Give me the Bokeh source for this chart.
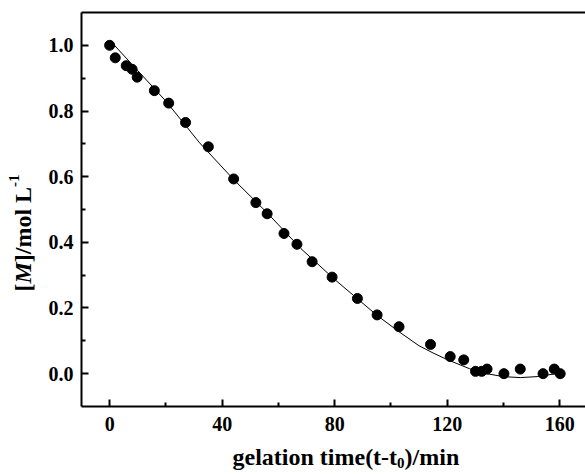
from math import pi
from bokeh.plotting import figure
from bokeh.models import Range1d, LinearAxis, FixedTicker, Label, NumeralTickFormatter
from bokeh.embed import file_html
from bokeh.resources import INLINE

# measured data points
time_min = [0, 2.0, 5.9, 8.0, 9.8, 15.9, 21.0, 27.0, 35.1, 44.1, 52.0, 56.0, 62.0,
            66.6, 72.0, 79.1, 88.1, 95.1, 102.9, 114.1, 121.1, 125.9, 130.1, 132.3,
            134.2, 140.2, 146.0, 154.1, 158.1, 160.2]
conc = [1.0, 0.962, 0.938, 0.927, 0.903, 0.862, 0.824, 0.765, 0.691, 0.593, 0.521,
        0.487, 0.427, 0.394, 0.341, 0.294, 0.229, 0.179, 0.143, 0.089, 0.052, 0.042,
        0.007, 0.007, 0.014, 0.0, 0.014, 0.0, 0.014, 0.0]

# fitted curve
fit_time = [0.85, 10, 20, 32, 44, 56, 68, 80, 88, 95, 103, 110, 115, 120, 128, 134,
            140, 146, 152, 158, 160]
fit_conc = [1.008, 0.923, 0.830, 0.703, 0.592, 0.490, 0.381, 0.287, 0.229, 0.178,
            0.127, 0.085, 0.063, 0.043, 0.015, 0.0, -0.009, -0.012, -0.009, -0.001, 0.003]

x_ticks = [0, 40, 80, 120, 160]
x_minor = [20, 60, 100, 140]
y_ticks = [0.0, 0.2, 0.4, 0.6, 0.8, 1.0]
y_minor = [0.1, 0.3, 0.5, 0.7, 0.9]
x_lo, x_hi = -10, 169.2
y_lo, y_hi = -0.1, 1.1

FONT = "Liberation Serif"

# frame covers the whole canvas; axes are placed at fixed data locations
p = figure(width=585, height=474, output_backend="svg", toolbar_location=None,
           x_range=Range1d(-38.8, 169.2), y_range=Range1d(-0.30711, 1.13655),
           x_axis_type=None, y_axis_type=None,
           min_border_left=0, min_border_right=0, min_border_top=0, min_border_bottom=0)
p.outline_line_color = None
p.grid.visible = False
p.background_fill_color = "white"
p.border_fill_color = "white"


def style(ax):
    ax.axis_line_width = 2
    ax.axis_line_color = "black"
    ax.major_tick_line_width = 2
    ax.minor_tick_line_width = 2
    ax.major_tick_in = 7
    ax.major_tick_out = 0
    ax.minor_tick_in = 4
    ax.minor_tick_out = 0
    ax.major_label_text_font = FONT
    ax.major_label_text_font_style = "bold"
    ax.major_label_text_font_size = "20px"
    ax.major_label_text_color = "black"


xa = LinearAxis(ticker=FixedTicker(ticks=x_ticks, minor_ticks=x_minor),
                fixed_location=y_lo, bounds=(x_lo, x_hi))
style(xa)
xa.major_label_standoff = 11
p.add_layout(xa, "below")

ya = LinearAxis(ticker=FixedTicker(ticks=y_ticks, minor_ticks=y_minor),
                formatter=NumeralTickFormatter(format="0.0"),
                fixed_location=x_lo, bounds=(y_lo, y_hi))
style(ya)
ya.major_label_standoff = 8
p.add_layout(ya, "left")

ta = LinearAxis(ticker=FixedTicker(ticks=[]), fixed_location=y_hi, bounds=(x_lo, x_hi))
ta.axis_line_width = 2
ta.major_label_text_font_size = "0px"
ta.major_tick_in = 0
ta.major_tick_out = 0
ta.minor_tick_in = 0
ta.minor_tick_out = 0
p.add_layout(ta, "above")

p.line(fit_time, fit_conc, line_color="black", line_width=1)
p.scatter(time_min, conc, size=10, fill_color="black", line_color="black")

# axis titles (screen units)
TS = "24px"
X_SPLIT = 396.6
X_BASE = 18
common = dict(x_units="screen", y_units="screen", text_baseline="alphabetic",
              text_font=FONT, text_color="black")
p.add_layout(Label(x=X_SPLIT, y=X_BASE, text="gelation time(t-t", text_align="right",
                   text_font_style="bold", text_font_size=TS, **common))
p.add_layout(Label(x=X_SPLIT, y=X_BASE - 6, text="0", text_align="left",
                   text_font_style="bold", text_font_size="15px", **common))
p.add_layout(Label(x=X_SPLIT + 7.5, y=X_BASE, text=")/min", text_align="left",
                   text_font_style="bold", text_font_size=TS, **common))

Y_BASE = 22
Y_M = 191
p.add_layout(Label(x=Y_BASE, y=Y_M, angle=pi / 2, text="[", text_align="right",
                   text_font_style="bold", text_font_size=TS, **common))
p.add_layout(Label(x=Y_BASE, y=Y_M, angle=pi / 2, text="M", text_align="left",
                   text_font_style="bold italic", text_font_size=TS, **common))
p.add_layout(Label(x=Y_BASE, y=Y_M + 21.3, angle=pi / 2, text="]/mol L", text_align="left",
                   text_font_style="bold", text_font_size=TS, **common))
p.add_layout(Label(x=Y_BASE - 9, y=Y_M + 21.3 + 75.3, angle=pi / 2, text="-1",
                   text_align="left", text_font_style="bold", text_font_size="15px", **common))

open("out.html", "w").write(file_html(p, INLINE))
